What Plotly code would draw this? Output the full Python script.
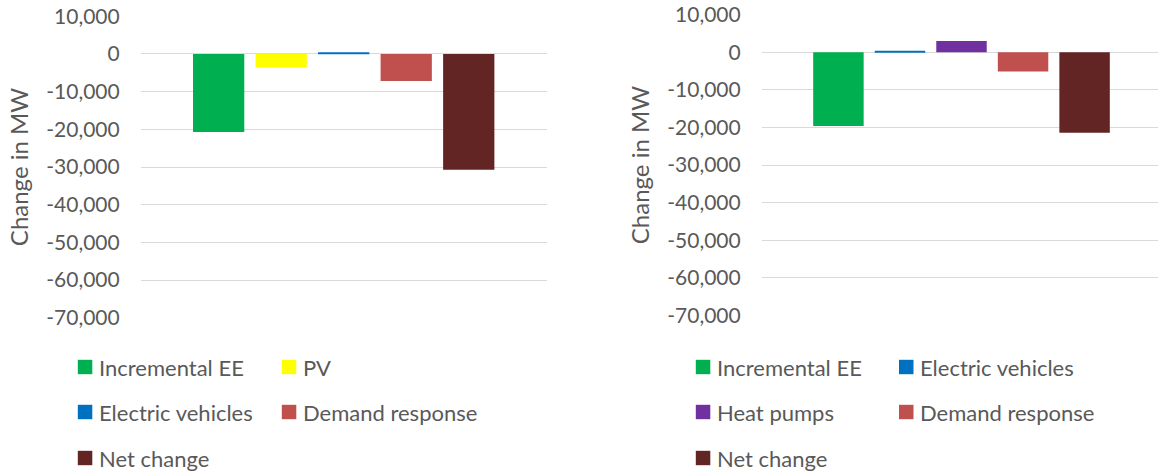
import plotly.graph_objects as go

# ---------------- data ----------------
left_series = ["Incremental EE", "PV", "Electric vehicles", "Demand response", "Net change"]
left_values = [-20700, -3600, 400, -7200, -30700]

right_series = ["Incremental EE", "Electric vehicles", "Heat pumps", "Demand response", "Net change"]
right_values = [-19600, 400, 3000, -5100, -21400]

tick_values = [10000, 0, -10000, -20000, -30000, -40000, -50000, -60000, -70000]
tick_labels = ["10,000", "0", "-10,000", "-20,000", "-30,000", "-40,000", "-50,000", "-60,000", "-70,000"]

axis_title = "Change in MW"
category = ["Scenario"]

series_colors = {
    "Incremental EE": "#00B050",
    "PV": "#FFFF00",
    "Electric vehicles": "#0070C0",
    "Heat pumps": "#7030A0",
    "Demand response": "#C0504D",
    "Net change": "#632523",
}

# ---------------- layout constants ----------------
W, H = 1158, 472
FONT = "Lato"
TXT = "#595959"
GRID = "#d9d9d9"
FS_TICK = 21
FS_TITLE = 24
FS_LEG = 22


def px_x(x):
    return x / W


def px_y(y):
    return 1 - y / H


fig = go.Figure()

for name, val in zip(left_series, left_values):
    fig.add_trace(go.Bar(x=category, y=[val], name=name, marker_color=series_colors[name],
                         marker_line_width=0, xaxis="x", yaxis="y", showlegend=False))
for name, val in zip(right_series, right_values):
    fig.add_trace(go.Bar(x=category, y=[val], name=name, marker_color=series_colors[name],
                         marker_line_width=0, xaxis="x2", yaxis="y2", showlegend=False))

yaxis_common = dict(
    range=[-70000, 10000], tickvals=tick_values, ticktext=tick_labels,
    showgrid=True, gridcolor=GRID, gridwidth=1.3,
    zeroline=True, zerolinecolor=GRID, zerolinewidth=1.3,
    showline=False, ticks="", ticklabelstandoff=20, automargin=False,
    tickfont=dict(family=FONT, size=FS_TICK, color=TXT),
    title=dict(text=axis_title, font=dict(family=FONT, size=FS_TITLE, color=TXT), standoff=10),
)
xaxis_common = dict(showticklabels=False, showgrid=False, zeroline=False, showline=False,
                    ticks="", automargin=False)

fig.update_layout(
    template="none",
    width=W, height=H,
    margin=dict(l=0, r=0, t=0, b=0, pad=0),
    paper_bgcolor="white", plot_bgcolor="white",
    barmode="group", bargap=0.23, bargroupgap=0.18,
    font=dict(family=FONT, size=FS_TICK, color=TXT),
    xaxis=dict(domain=[px_x(140.7), px_x(546.7)], range=[-0.5, 0.5], anchor="y", **xaxis_common),
    yaxis=dict(domain=[px_y(317.7), px_y(16.3)], anchor="x", **yaxis_common),
    xaxis2=dict(domain=[px_x(761.7), 1.0], range=[-0.5, 0.4917], anchor="y2", **xaxis_common),
    yaxis2=dict(domain=[px_y(315.3), px_y(14.8)], anchor="x2", **yaxis_common),
)

# ---------------- manual legends ----------------
shapes = []
annotations = []


def add_legend(series, col_text_x, col_sq_x, row_y):
    for i, name in enumerate(series):
        r, c = divmod(i, 2)
        sx = col_sq_x[c]
        cy = row_y[r]
        shapes.append(dict(type="rect", xref="paper", yref="paper",
                           x0=px_x(sx), x1=px_x(sx + 14.5),
                           y0=px_y(cy + 7.2), y1=px_y(cy - 7.2),
                           fillcolor=series_colors[name], line=dict(width=0)))
        annotations.append(dict(xref="paper", yref="paper", x=px_x(col_text_x[c]), y=px_y(cy),
                                xanchor="left", yanchor="middle", showarrow=False, text=name,
                                font=dict(family=FONT, size=FS_LEG, color=TXT)))


rows = [367, 412, 458]
add_legend(left_series, [97.0, 300.5], [77.8, 281.8], rows)
add_legend(right_series, [714.7, 918.0], [695.8, 899.0], rows)

fig.update_layout(shapes=shapes, annotations=annotations)

fig.write_html("out.html")
